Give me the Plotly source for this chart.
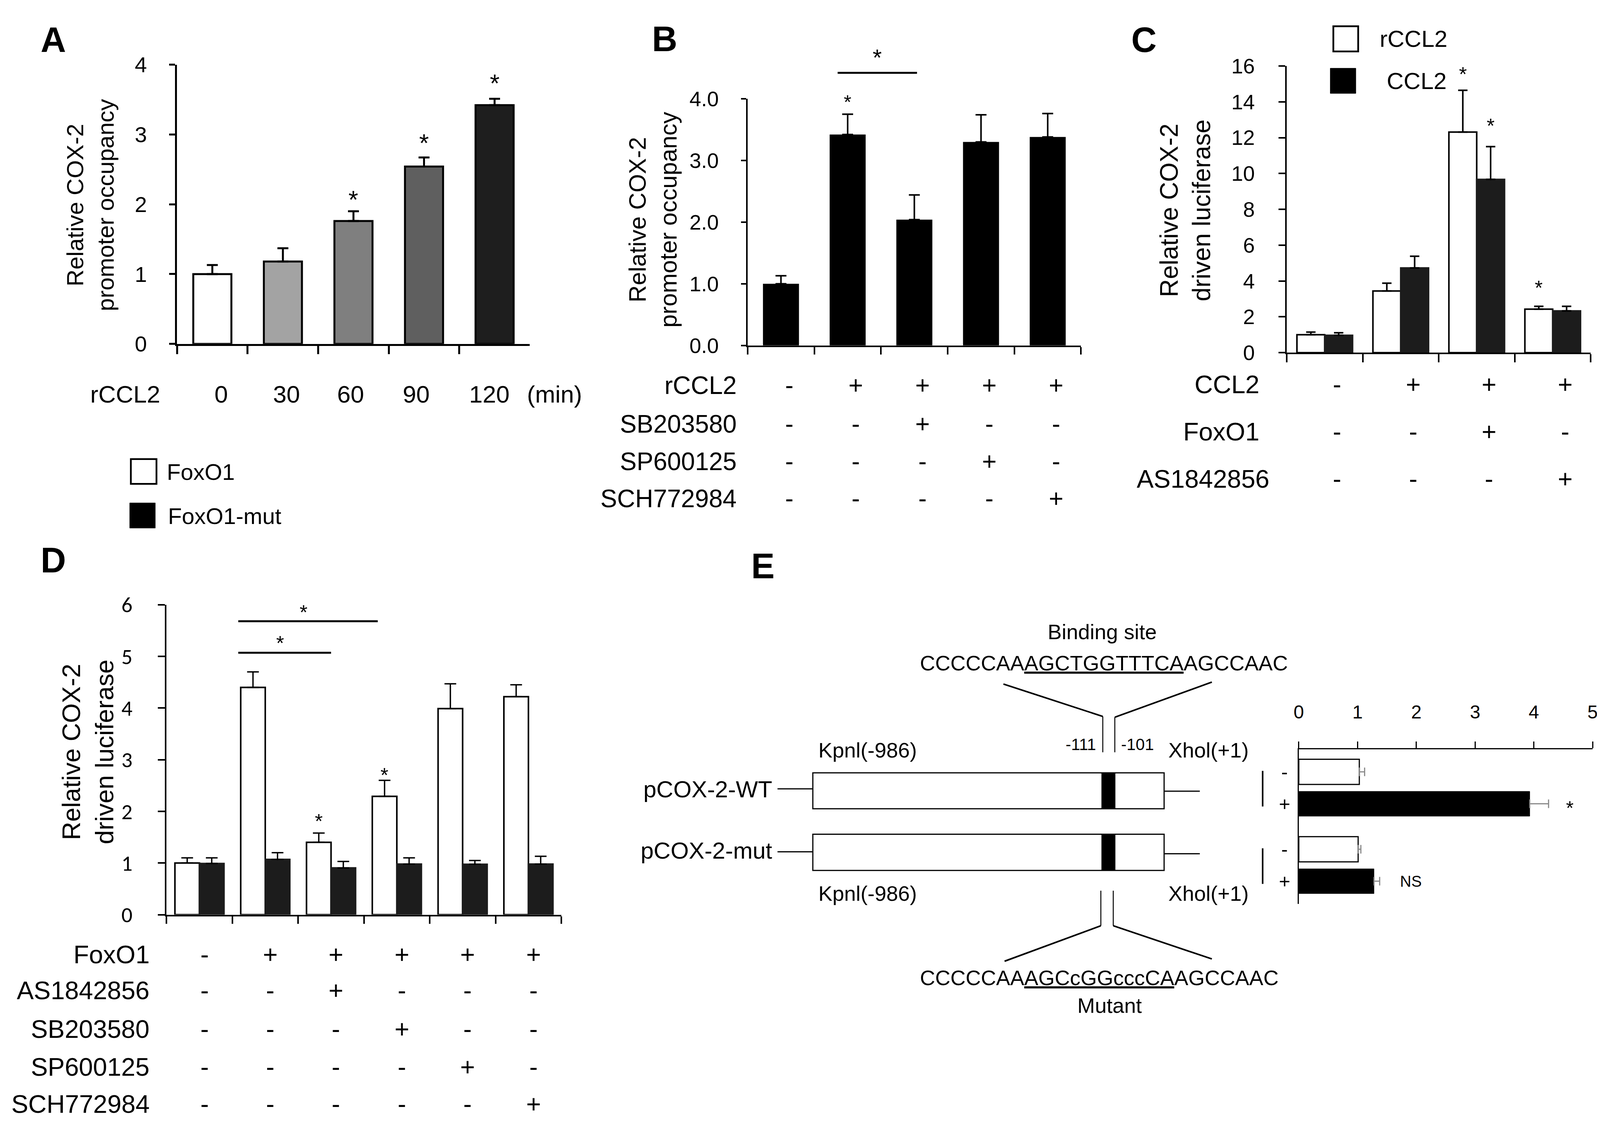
import plotly.graph_objects as go

W, H = 4100, 2894
FONT = "Liberation Sans, Arial, Helvetica, sans-serif"
FONT_CAL = "Carlito, Lato, Calibri, sans-serif"


def px(x):
    return x / W


def py(y):
    return 1 - y / H


# ---------------- data ----------------
# Panel A
a_cats = ["0", "30", "60", "90", "120"]
a_vals = [1.00, 1.18, 1.76, 2.54, 3.42]
a_errs = [0.13, 0.19, 0.14, 0.13, 0.09]
a_star_y = [None, None, 2.14, 2.95, 3.81]
a_colors = ["#ffffff", "#a3a3a3", "#7f7f7f", "#5f5f5f", "#1e1e1e"]
a_xlabel = "rCCL2"
a_unit = "(min)"

# Panel B
b_cats = ["ctrl", "rCCL2", "rCCL2+SB", "rCCL2+SP", "rCCL2+SCH"]
b_vals = [1.00, 3.42, 2.04, 3.30, 3.38]
b_errs = [0.13, 0.33, 0.40, 0.44, 0.38]
b_star_y = [None, 4.01, None, None, None]
b_bracket = [0.85, 2.04, 4.42, 4.75]  # x0, x1, line y, star y
b_rows = ["rCCL2", "SB203580", "SP600125", "SCH772984"]
b_signs = [["-", "+", "+", "+", "+"],
           ["-", "-", "+", "-", "-"],
           ["-", "-", "-", "+", "-"],
           ["-", "-", "-", "-", "+"]]

# Panel C
c_cats = ["g1", "g2", "g3", "g4"]
c_white = [1.00, 3.44, 12.31, 2.43]
c_white_err = [0.15, 0.44, 2.33, 0.16]
c_black = [0.97, 4.73, 9.67, 2.33]
c_black_err = [0.14, 0.65, 1.83, 0.26]
c_white_star_y = [None, None, 15.79, 3.88]
c_black_star_y = [None, None, 12.91, None]
c_legend = ["rCCL2", "CCL2"]
c_rows = ["CCL2", "FoxO1", "AS1842856"]
c_signs = [["-", "+", "+", "+"],
           ["-", "-", "+", "-"],
           ["-", "-", "-", "+"]]

# Panel D
d_cats = ["g1", "g2", "g3", "g4", "g5", "g6"]
d_white = [1.00, 4.40, 1.40, 2.29, 3.99, 4.22]
d_white_err = [0.10, 0.30, 0.18, 0.31, 0.48, 0.23]
d_black = [0.99, 1.07, 0.905, 0.98, 0.976, 0.98]
d_black_err = [0.11, 0.13, 0.125, 0.12, 0.074, 0.15]
d_white_star_y = [None, None, 1.90, 2.79, None, None]
d_brackets = [[0.59, 2.00, 5.07, 5.34], [0.59, 2.71, 5.68, 5.94]]
d_legend = ["FoxO1", "FoxO1-mut"]
d_rows = ["FoxO1", "AS1842856", "SB203580", "SP600125", "SCH772984"]
d_signs = [["-", "+", "+", "+", "+", "+"],
           ["-", "-", "+", "-", "-", "-"],
           ["-", "-", "-", "+", "-", "-"],
           ["-", "-", "-", "-", "+", "-"],
           ["-", "-", "-", "-", "-", "+"]]

# Panel E
e_cats = ["WT", "mut"]
e_minus = [1.03, 1.01]
e_minus_err = [0.09, 0.046]
e_plus = [3.93, 1.28]
e_plus_err = [0.32, 0.096]
e_marks = ["*", "NS"]
e_mark_x = [4.61, 1.91]
e_signs = ["-", "+"]
e_constructs = ["pCOX-2-WT", "pCOX-2-mut"]
e_seq_wt = "CCCCCAA<u>AGCTGGTTTCA</u>AGCCAAC"
e_seq_mut = "CCCCCAA<u>AGCcGGcccCA</u>AGCCAAC"

fig = go.Figure()

# ---------------- traces ----------------
fig.add_trace(go.Bar(
    x=a_cats, y=a_vals, xaxis="x", yaxis="y", width=0.54,
    marker=dict(color=a_colors, line=dict(color="black", width=5)),
    error_y=dict(type="data", array=a_errs, arrayminus=[0] * len(a_errs), symmetric=False,
                 color="black", thickness=5, width=14)))

fig.add_trace(go.Bar(
    x=b_cats, y=b_vals, xaxis="x2", yaxis="y2", width=0.54,
    marker=dict(color="black", line=dict(color="black", width=0)),
    error_y=dict(type="data", array=b_errs, arrayminus=[0] * len(b_errs), symmetric=False,
                 color="black", thickness=4, width=14)))

C_W = 0.366
fig.add_trace(go.Bar(
    x=c_cats, y=c_white, xaxis="x3", yaxis="y3", offset=-C_W, width=C_W,
    marker=dict(color="white", line=dict(color="black", width=4)),
    error_y=dict(type="data", array=c_white_err, arrayminus=[0] * 4, symmetric=False,
                 color="black", thickness=4, width=12)))
fig.add_trace(go.Bar(
    x=c_cats, y=c_black, xaxis="x3", yaxis="y3", offset=0, width=C_W,
    marker=dict(color="#1c1c1c", line=dict(color="#1c1c1c", width=4)),
    error_y=dict(type="data", array=c_black_err, arrayminus=[0] * 4, symmetric=False,
                 color="black", thickness=4, width=12)))

D_W = 0.373
fig.add_trace(go.Bar(
    x=d_cats, y=d_white, xaxis="x4", yaxis="y4", offset=-D_W, width=D_W,
    marker=dict(color="white", line=dict(color="black", width=4)),
    error_y=dict(type="data", array=d_white_err, arrayminus=[0] * 6, symmetric=False,
                 color="black", thickness=3.5, width=15)))
fig.add_trace(go.Bar(
    x=d_cats, y=d_black, xaxis="x4", yaxis="y4", offset=0, width=D_W,
    marker=dict(color="#1c1c1c", line=dict(color="#1c1c1c", width=4)),
    error_y=dict(type="data", array=d_black_err, arrayminus=[0] * 6, symmetric=False,
                 color="black", thickness=3.5, width=15)))

E_OFF = [-0.37, 0.045]
E_WID = [0.325, 0.32]
fig.add_trace(go.Bar(
    y=e_cats, x=e_minus, orientation="h", xaxis="x5", yaxis="y5", offset=E_OFF[0], width=E_WID[0],
    marker=dict(color="white", line=dict(color="black", width=3)),
    error_x=dict(type="data", array=e_minus_err, arrayminus=[0] * 2, symmetric=False,
                 color="#8a8a8a", thickness=3, width=11)))
fig.add_trace(go.Bar(
    y=e_cats, x=e_plus, orientation="h", xaxis="x5", yaxis="y5", offset=E_OFF[1], width=E_WID[1],
    marker=dict(color="black", line=dict(color="black", width=1)),
    error_x=dict(type="data", array=e_plus_err, arrayminus=[0] * 2, symmetric=False,
                 color="#8a8a8a", thickness=3, width=11)))


# ---------------- axes ----------------
def xcat(domain, anchor, n, lw, tl):
    return dict(domain=domain, anchor=anchor, type="category", range=[-0.5, n - 0.5],
                tickson="boundaries", ticks="outside", ticklen=tl, tickwidth=lw, tickcolor="black",
                showline=True, linewidth=lw, linecolor="black", showticklabels=False,
                showgrid=False, zeroline=False, fixedrange=True)


def yval(domain, anchor, rng, dtick, lw, tl, font, size, standoff, fmt=None):
    d = dict(domain=domain, anchor=anchor, range=rng, dtick=dtick, tick0=0, ticks="outside",
             ticklen=tl, tickwidth=lw, tickcolor="black", showline=True, linewidth=lw,
             linecolor="black", tickfont=dict(family=font, size=size, color="black"),
             ticklabelstandoff=standoff, showgrid=False, zeroline=False, fixedrange=True)
    if fmt:
        d["tickformat"] = fmt
    return d


A_YMAX, B_YMAX, C_YMAX, D_YMAX = 4, 4, 16, 6

layout = dict(
    width=W, height=H, margin=dict(l=0, r=0, t=0, b=0),
    paper_bgcolor="white", plot_bgcolor="white", showlegend=False, barmode="overlay",
    xaxis=xcat([px(435), px(1344)], "y", len(a_cats), 5, 21),
    yaxis=yval([py(860), py(127.5)], "x", [0, A_YMAX], 1, 5, 15, FONT, 56, 46),
    xaxis2=xcat([px(1905), px(2764)], "y2", len(b_cats), 4, 19),
    yaxis2=yval([py(864), py(217)], "x2", [0, B_YMAX], 1, 4, 13, FONT, 54, 46, ".1f"),
    xaxis3=xcat([px(3294), px(4077)], "y3", len(c_cats), 4, 21),
    yaxis3=yval([py(883), py(131)], "x3", [0, C_YMAX], 2, 4, 17, FONT, 54, 50),
    xaxis4=xcat([px(408), px(1425)], "y4", len(d_cats), 4, 19),
    yaxis4=yval([py(2357), py(1544)], "x4", [0, D_YMAX], 1, 4, 18, FONT_CAL, 56, 54),
    xaxis5=dict(domain=[px(3325), px(4082)], anchor="y5", side="top", range=[0, 5], dtick=1,
                ticks="outside", ticklen=17, tickwidth=3, tickcolor="black", showline=True,
                linewidth=3, linecolor="black", tickfont=dict(family=FONT, size=48, color="black"),
                ticklabelstandoff=40, showgrid=False, zeroline=False, fixedrange=True),
    yaxis5=dict(domain=[py(2329), py(1923)], anchor="x5", type="category",
                categoryorder="array", categoryarray=e_cats, range=[1.5, -0.5],
                showline=True, linewidth=3, linecolor="black", ticks="",
                showticklabels=False, showgrid=False, zeroline=False, fixedrange=True),
)

ann = []
shapes = []


def text(x, y, s, size, xanchor="center", yanchor="middle", font=FONT, xref="paper",
         yref="paper", angle=0, xshift=0, yshift=0, color="black"):
    ann.append(dict(x=x, y=y, xref=xref, yref=yref, text=s, showarrow=False,
                    xanchor=xanchor, yanchor=yanchor, textangle=angle,
                    font=dict(family=font, size=size, color=color),
                    xshift=xshift, yshift=yshift))


def star(x, y, xref, yref, size=50, s="*"):
    text(x, y, s, size, xref=xref, yref=yref, yshift=-0.22 * size)


def pline(x0, y0, x1, y1, w=3, color="black"):
    shapes.append(dict(type="line", xref="paper", yref="paper", x0=px(x0), y0=py(y0),
                       x1=px(x1), y1=py(y1), line=dict(color=color, width=w)))


def prect(x0, y0, x1, y1, fill, w=3, color="black"):
    shapes.append(dict(type="rect", xref="paper", yref="paper", x0=px(x0), y0=py(y0),
                       x1=px(x1), y1=py(y1), fillcolor=fill, line=dict(color=color, width=w)))


# Panel letters
for letter, (lx, ly) in zip("ABCDE", [(116, 62), (1691, 60), (2926, 62), (116, 1428), (1944, 1443)]):
    text(px(lx), py(ly), "<b>%s</b>" % letter, 90, font="Liberation Sans, Arial, sans-serif")

# ---- Panel A annotations
text(px(212), py(496), "Relative COX-2<br>promoter occupancy", 60, angle=-90)
A_LABEL_SHIFT = [22, 9, -7, -20, -14]
for i, c in enumerate(a_cats):
    text(i, py(992), c, 62, xref="x", xshift=A_LABEL_SHIFT[i])
text(px(393), py(992), a_xlabel, 62, xanchor="right")
text(px(1407), py(992), a_unit, 62)
for i, sy in enumerate(a_star_y):
    if sy is not None:
        star(i, sy / A_YMAX, "x", "y domain", 64)
# FoxO1 legend (for panel D)
prect(316, 1162, 382, 1227, "white", 4.5)
prect(313, 1277, 379, 1343, "black", 1)
text(px(407), py(1196), d_legend[0], 58, xanchor="left")
text(px(410), py(1311), d_legend[1], 58, xanchor="left")

# ---- Panel B annotations
text(px(1661), py(534), "Relative COX-2<br>promoter occupancy", 61, angle=-90)
b_row_y = [969, 1070, 1168, 1266]
for r, name in enumerate(b_rows):
    text(px(1879), py(b_row_y[r]), name, 64, xanchor="right")
    for i, s in enumerate(b_signs[r]):
        text(i, py(b_row_y[r]), s, 64, xref="x2", xshift=21)
for i, sy in enumerate(b_star_y):
    if sy is not None:
        star(i, sy / B_YMAX, "x2", "y2 domain", 50)
shapes.append(dict(type="line", xref="x2", yref="y2 domain", x0=b_bracket[0], x1=b_bracket[1],
                   y0=b_bracket[2] / B_YMAX, y1=b_bracket[2] / B_YMAX,
                   line=dict(color="black", width=5)))
star((b_bracket[0] + b_bracket[1]) / 2, b_bracket[3] / B_YMAX, "x2", "y2 domain", 60)

# ---- Panel C annotations
text(px(3032), py(510), "Relative COX-2<br>driven luciferase", 64, angle=-90)
c_row_y = [966, 1090, 1214]
c_row_right = [3225, 3225, 3252]
for r, name in enumerate(c_rows):
    text(px(c_row_right[r]), py(c_row_y[r]), name, 65, xanchor="right")
    for i, s in enumerate(c_signs[r]):
        text(i, py(c_row_y[r]), s, 65, xref="x3", xshift=32)
for i, sy in enumerate(c_white_star_y):
    if sy is not None:
        star(i - C_W / 2, sy / C_YMAX, "x3", "y3 domain", 52)
for i, sy in enumerate(c_black_star_y):
    if sy is not None:
        star(i + C_W / 2, sy / C_YMAX, "x3", "y3 domain", 52)
prect(3414, 27, 3478, 93, "white", 4.5)
prect(3406, 137, 3472, 203, "black", 1)
text(px(3531), py(60), c_legend[0], 60, xanchor="left")
text(px(3550), py(170), c_legend[1], 60, xanchor="left")

# ---- Panel D annotations
text(px(205), py(1930), "Relative COX-2<br>driven luciferase", 65, angle=-90)
d_row_y = [2461, 2556, 2657, 2756, 2854]
for r, name in enumerate(d_rows):
    text(px(366), py(d_row_y[r]), name, 65, xanchor="right")
    for i, s in enumerate(d_signs[r]):
        text(i, py(d_row_y[r]), s, 65, xref="x4", xshift=13)
for i, sy in enumerate(d_white_star_y):
    if sy is not None:
        star(i - D_W / 2, sy / D_YMAX, "x4", "y4 domain", 52)
for x0, x1, ly, sy in d_brackets:
    shapes.append(dict(type="line", xref="x4", yref="y4 domain", x0=x0, x1=x1,
                       y0=ly / D_YMAX, y1=ly / D_YMAX, line=dict(color="black", width=5)))
    star((x0 + x1) / 2 - 0.07, sy / D_YMAX, "x4", "y4 domain", 52)

# ---- Panel E bar chart annotations
for g in range(len(e_cats)):
    shapes.append(dict(type="line", xref="x5 domain", yref="y5", x0=-0.123, x1=-0.123,
                       y0=g - 0.22, y1=g + 0.24, line=dict(color="black", width=4)))
    for k, s in enumerate(e_signs):
        text(-0.049, g + E_OFF[k] + E_WID[k] / 2, s, 50, xref="x5 domain", yref="y5")
    if e_marks[g] == "*":
        star(e_mark_x[g], g + E_OFF[1] + E_WID[1] / 2, "x5", "y5", 50)
    else:
        text(e_mark_x[g], g + E_OFF[1] + E_WID[1] / 2, e_marks[g], 40, xref="x5", yref="y5")

# ---- Panel E diagram
DIAG = 54
text(px(2818), py(1615), "Binding site", DIAG)
text(px(2347), py(1697), e_seq_wt, DIAG, xanchor="left")
text(px(2347), py(2522), e_seq_mut, DIAG, xanchor="left")
text(px(2837), py(2595), "Mutant", DIAG)
text(px(2805), py(1910), "-111", 42, xanchor="right")
text(px(2865), py(1910), "-101", 42, xanchor="left")
for yy in (1925, 2301):
    text(px(2085), py(yy), "Kpnl(-986)", DIAG, xanchor="left")
    text(px(2987), py(yy), "Xhol(+1)", DIAG, xanchor="left")
text(px(1970), py(2028), e_constructs[0], 60, xanchor="right")
text(px(1970), py(2189), e_constructs[1], 60, xanchor="right")

# construct boxes
for (y0, y1, yl, yr) in [(1985, 2079, 2027, 2033), (2146, 2241, 2192, 2197)]:
    prect(2073, y0, 2978, y1, "white", 3)
    prect(2817, y0, 2852, y1, "black", 1)
    pline(1982, yl, 2073, yl, 3)
    pline(2978, yr, 3070, yr, 3)
# binding site callout (top)
pline(2820, 1837, 2820, 1931, 2.5)
pline(2851, 1839, 2851, 1931, 2.5)
pline(2820, 1837, 2564, 1752, 4)
pline(2851, 1839, 3101, 1747, 4)
# mutant callout (bottom)
pline(2815, 2294, 2815, 2386, 2.5)
pline(2847, 2294, 2847, 2386, 2.5)
pline(2815, 2386, 2567, 2479, 4)
pline(2847, 2386, 3101, 2473, 4)

layout["annotations"] = ann
layout["shapes"] = shapes
fig.update_layout(**layout)
fig.write_html("out.html")
